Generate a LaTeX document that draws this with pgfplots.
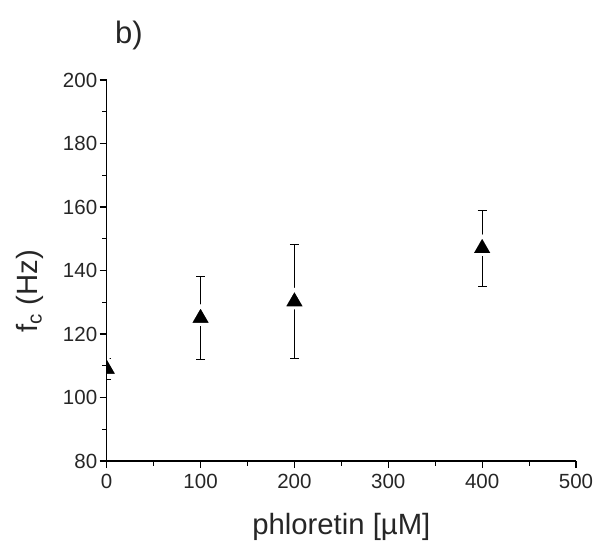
\documentclass[border=0pt]{standalone}
\usepackage{fontspec}
\setmainfont{Liberation Sans}
\usepackage{pgfplots}
\pgfplotsset{compat=1.18}
\begin{document}
\begin{tikzpicture}
\begin{axis}[
  name=ax,
  at={(0,0)}, anchor=south west,
  scale only axis, width=469.3pt, height=381pt,
  xmin=0, xmax=500, ymin=80, ymax=200,
  axis lines*=left,
  axis on top,
  clip marker paths=true,
  axis line style={line width=1.2pt},
  xtick={0,100,...,500}, ytick={80,100,...,200},
  minor x tick num=1, minor y tick num=1,
  tick align=outside, major tick length=7pt, minor tick length=4.5pt,
  tick style={line width=1.1pt, black},
  ticklabel style={font=\fontsize{20.5}{24}\selectfont, text=black!85},
  xticklabel style={yshift=-3pt},
  yticklabel style={xshift=1pt},
  /pgf/number format/assume math mode=true,
  xlabel={phloretin [µM]},
  ylabel={f\textsubscript{c} (Hz)},
  label style={font=\fontsize{29.3}{34}\selectfont, text=black!85},
  xlabel style={at={(axis description cs:0.5,-0.194)}, anchor=base},
  ylabel style={at={(axis description cs:-0.1464,0.446)}, anchor=base},
]
\addplot+[only marks, black, mark=triangle*, mark size=12.5pt,
  mark options={fill=black, draw=white, line width=2.8pt, line join=round},
  error bars/.cd, y dir=both, y explicit,
  error bar style={line width=1pt, black},
  error mark options={rotate=90, mark size=4.5pt, line width=1pt, draw=black}]
  coordinates {
    (0,109) +- (0,3.3)
    (100,125) +- (0,13)
    (200,130.2) +- (0,18)
    (400,147) +- (0,12)
  };
\end{axis}
\node[anchor=base west, font=\fontsize{31}{36}\selectfont, text=black!85] at (5pt,417pt) {b)};
\pgfresetboundingbox
\path[use as bounding box] (-106.7pt,-80pt) rectangle (490.3pt,461pt);
\end{tikzpicture}
\end{document}
